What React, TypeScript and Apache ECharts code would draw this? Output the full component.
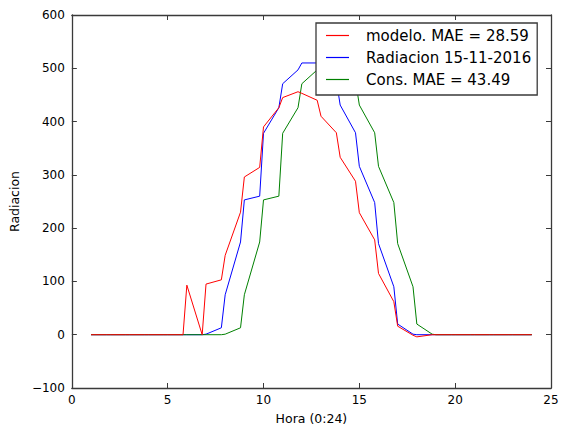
import React, { useEffect, useRef } from "react";
import * as echarts from "echarts";

const horas = [
  1, 1.8, 2, 2.8, 3, 3.8, 4, 4.8, 5, 5.8, 6, 6.8, 7, 7.8, 8, 8.8, 9, 9.8, 10, 10.8,
  11, 11.8, 12, 12.8, 13, 13.8, 14, 14.8, 15, 15.8, 16, 16.8, 17, 17.8, 18, 18.8,
  19, 19.8, 20, 20.8, 21, 21.8, 22, 22.8, 23, 23.8, 24,
];

const modelo = [
  0, 0, 0, 0, 0, 0, 0, 0, 0, 0, 93, 0, 95, 103, 149, 230, 296, 314, 390, 426,
  445, 456, 453, 440, 410, 379, 333, 288, 229, 178, 115, 62, 16, -1, -4, 0,
  0, 0, 0, 0, 0, 0, 0, 0, 0, 0, 0,
];

const radiacion = [
  0, 0, 0, 0, 0, 0, 0, 0, 0, 0, 0, 0, 1, 13, 75, 174, 253, 260, 378, 426,
  471, 497, 510, 510, 508, 477, 431, 379, 316, 248, 171, 90, 20, 1, 0, 0,
  0, 0, 0, 0, 0, 0, 0, 0, 0, 0, 0,
];

const cons = [
  0, 0, 0, 0, 0, 0, 0, 0, 0, 0, 0, 0, 0, 0, 1, 13, 75, 174, 253, 260,
  378, 426, 471, 497, 510, 510, 508, 477, 431, 379, 316, 248, 171, 90, 20, 1,
  0, 0, 0, 0, 0, 0, 0, 0, 0, 0, 0,
];

const seriesNames = ["modelo. MAE = 28.59", "Radiacion 15-11-2016", "Cons. MAE = 43.49"];
const seriesColors = ["#ff0000", "#0000ff", "#008000"];
const xTicks = { min: 0, max: 25, interval: 5 };
const yTicks = { min: -100, max: 600, interval: 100 };

const FONT = "DejaVu Sans";
const SPINE = "#3a3a3a";

export default function App() {
  const ref = useRef<HTMLDivElement>(null);

  useEffect(() => {
    if (!ref.current) return;
    const chart = echarts.init(ref.current, undefined, { renderer: "svg" });
    const pair = (vals: number[]) => horas.map((h, i) => [h, vals[i]]);
    const axisLine = { show: true, onZero: false, lineStyle: { color: SPINE, width: 1.3 } };
    const axisTick = { show: true, inside: true, length: 5, lineStyle: { color: SPINE, width: 1 } };
    const minus = (v: number) => String(v).replace("-", "\u2212");

    chart.setOption({
      animation: false,
      backgroundColor: "#ffffff",
      grid: { left: 70, right: 12, top: 15, bottom: 42, containLabel: false },
      xAxis: [
        {
          type: "value",
          ...xTicks,
          position: "bottom",
          axisLine,
          axisTick,
          splitLine: { show: false },
          axisLabel: { color: "#000", fontSize: 12, fontFamily: FONT, margin: 6, formatter: minus },
          name: "Hora (0:24)",
          nameLocation: "middle",
          nameGap: 24,
          nameTextStyle: { color: "#000", fontSize: 12.5, fontFamily: FONT },
        },
        {
          type: "value",
          ...xTicks,
          position: "top",
          axisLine,
          axisTick,
          splitLine: { show: false },
          axisLabel: { show: false },
        },
      ],
      yAxis: [
        {
          type: "value",
          ...yTicks,
          position: "left",
          axisLine,
          axisTick,
          splitLine: { show: false },
          axisLabel: { color: "#000", fontSize: 12, fontFamily: FONT, margin: 7, formatter: minus },
          name: "Radiacion",
          nameLocation: "middle",
          nameGap: 42,
          nameRotate: 90,
          nameTextStyle: { color: "#000", fontSize: 12.5, fontFamily: FONT },
        },
        {
          type: "value",
          ...yTicks,
          position: "right",
          axisLine,
          axisTick,
          splitLine: { show: false },
          axisLabel: { show: false },
        },
      ],
      legend: {
        data: seriesNames,
        orient: "vertical",
        left: 316,
        top: 23,
        padding: [5, 6, 8, 10],
        itemGap: 7,
        icon: "rect",
        itemWidth: 23,
        itemHeight: 1.2,
        selectedMode: false,
        borderColor: SPINE,
        borderWidth: 1.3,
        borderRadius: 0,
        backgroundColor: "#ffffff",
        z: 10,
        textStyle: {
          fontFamily: FONT,
          fontSize: 15,
          lineHeight: 15,
          color: "#000",
          padding: [0, 0, 0, 12],
        },
      },
      series: [
        { name: seriesNames[0], data: pair(modelo), z: 4 },
        { name: seriesNames[1], data: pair(radiacion), z: 2 },
        { name: seriesNames[2], data: pair(cons), z: 3 },
      ].map((s, i) => ({
        ...s,
        type: "line",
        xAxisIndex: 0,
        yAxisIndex: 0,
        symbol: "none",
        color: seriesColors[i],
        lineStyle: { color: seriesColors[i], width: 1 },
        emphasis: { disabled: true },
      })),
    });

    return () => chart.dispose();
  }, []);

  return (
    <div
      ref={ref}
      style={{ position: "fixed", left: 0, top: 0, width: 563, height: 430 }}
    />
  );
}
